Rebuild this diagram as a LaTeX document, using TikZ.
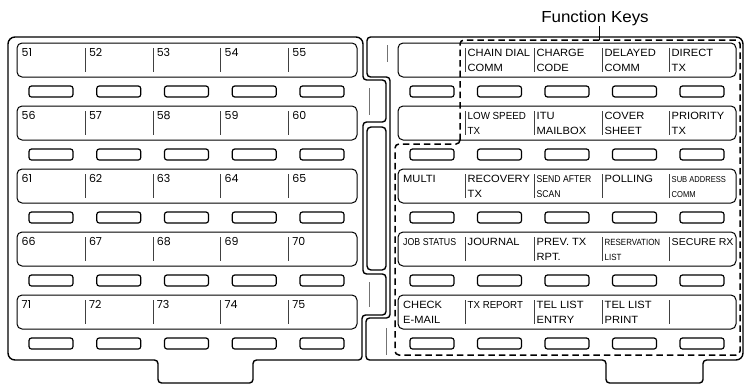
\documentclass[tikz,border=0pt]{standalone}
\usepackage{fontspec}
\setmainfont{Liberation Sans}
\newfontfamily\wide[FakeStretch=1.06]{Liberation Sans}
\newfontfamily\narrowa[FakeStretch=0.95]{Liberation Sans}
\newfontfamily\narrowb[FakeStretch=0.88]{Liberation Sans}
\newfontfamily\numfont{Poppins}
\newcommand\twoline[6]{%
  \node[ftxt, font=#4] (#1a) at (#2,#3+13.5) {#5};
  \node[ftxt, font=#4] (#1b) at (#2,#3+28) {#6};}
\newcommand\oneline[5]{%
  \node[ftxt, font=#4] (#1a) at (#2,#3+13.5) {#5};}
\newcommand\fsz[1]{\fontsize{#1}{#1}\selectfont}
\begin{document}
\begin{tikzpicture}[x=1pt,y=-1pt,
  sheet/.style={draw, line width=1.4pt},
  labelrow/.style={draw, line width=1pt, rounded corners=5pt},
  keybox/.style={draw, line width=1.2pt, rounded corners=2.5pt},
  sepline/.style={draw=black!75, line width=0.9pt},
  graymark/.style={draw=black!55, line width=1pt},
  fkdash/.style={draw, line width=1.5pt, dash pattern=on 6.5pt off 4pt, rounded corners=4pt},
  ftxt/.style={anchor=base west, inner sep=0pt},
  numlabel/.style={anchor=base west, inner sep=0pt, font=\numfont\fsz{11}}
]
\useasboundingbox (0,0) rectangle (746,386);

% left sheet
\draw[sheet, rounded corners=7pt] (8,37) -- (363,37) [rounded corners=3.5pt] -- (363,80) -- (386,80) -- (386,122) -- (363,122) -- (363,274) -- (386,274) -- (386,315) -- (362,315) -- (362,360) -- (253,360) -- (253,383) -- (158,383) -- (158,360) [rounded corners=7pt] -- (8,360) -- cycle;
% right sheet
\draw[sheet, rounded corners=4pt] (367,37) [rounded corners=7pt] -- (743,37) -- (743,360) [rounded corners=3.5pt] -- (703,360) -- (703,383) -- (606,383) -- (606,360) -- (366,360) -- (366,318) -- (390,318) -- (390,77) -- (367,77) -- cycle;
% middle bar
\draw[sheet, rounded corners=4pt] (367,127) rectangle (386,270);
% gray marks
\draw[graymark] (387,45) -- (387,62);
\draw[graymark] (369,88) -- (369,115);
\draw[graymark] (369,282) -- (369,307);
\draw[graymark] (386,328) -- (386,355);

\foreach \r in {0,...,4}{
  \pgfmathsetmacro\rt{43+63*\r}
  \draw[labelrow] (17,\rt) rectangle (357,\rt+34);
  \draw[labelrow] (398,\rt) rectangle (736,\rt+34);
  \foreach \i in {0,...,4}{
    \pgfmathsetmacro\lx{51+67.75*\i}
    \pgfmathsetmacro\rx{432+67.5*\i}
    \draw[keybox] (\lx-22,\rt+43) rectangle (\lx+22,\rt+54);
    \draw[keybox] (\rx-22,\rt+43) rectangle (\rx+22,\rt+54);
    \pgfmathtruncatemacro\num{51+5*\r+\i}
    \ifnum\i=0
      \node[numlabel] (n\num) at (21.5,\rt+13.5) {\num};
    \else
      \pgfmathsetmacro\sx{85.3+67.8*(\i-1)}
      \draw[sepline] (\sx,\rt+5) -- (\sx,\rt+29);
      \node[numlabel] (n\num) at (\sx+3.5,\rt+13.5) {\num};
    \fi
  }
  \foreach \sx in {465,534,602,669}{
    \draw[sepline] (\sx,\rt+5) -- (\sx,\rt+29);
  }
}

% function key texts
\twoline{r0c1}{467.5}{43}{\wide\fsz{10.5}}{CHAIN DIAL}{COMM}
\twoline{r0c2}{536.5}{43}{\wide\fsz{10.5}}{CHARGE}{CODE}
\twoline{r0c3}{604.5}{43}{\wide\fsz{10.5}}{DELAYED}{COMM}
\twoline{r0c4}{671.5}{43}{\wide\fsz{10.5}}{DIRECT}{TX}
\twoline{r1c1}{467.5}{106}{\narrowa\fsz{10.3}}{LOW SPEED}{TX}
\twoline{r1c2}{536.5}{106}{\wide\fsz{10.5}}{ITU}{MAILBOX}
\twoline{r1c3}{604.5}{106}{\wide\fsz{10.5}}{COVER}{SHEET}
\twoline{r1c4}{671.5}{106}{\wide\fsz{10.5}}{PRIORITY}{TX}
\oneline{r2c0}{403}{169}{\wide\fsz{10.5}}{MULTI}
\twoline{r2c1}{467.5}{169}{\wide\fsz{10.5}}{RECOVERY}{TX}
\twoline{r2c2}{536.5}{169}{\narrowb\fsz{9.8}}{SEND AFTER}{SCAN}
\oneline{r2c3}{604.5}{169}{\wide\fsz{10.5}}{POLLING}
\twoline{r2c4}{671.5}{169}{\narrowb\fsz{8.6}}{SUB ADDRESS}{COMM}
\oneline{r3c0}{403}{232}{\narrowb\fsz{10}}{JOB STATUS}
\oneline{r3c1}{467.5}{232}{\wide\fsz{10.5}}{JOURNAL}
\twoline{r3c2}{536.5}{232}{\wide\fsz{10.5}}{PREV. TX}{RPT.}
\twoline{r3c3}{604.5}{232}{\narrowb\fsz{9}}{RESERVATION}{LIST}
\oneline{r3c4}{671.5}{232}{\wide\fsz{10}}{SECURE RX}
\twoline{r4c0}{403}{295}{\wide\fsz{10.5}}{CHECK}{E-MAIL}
\oneline{r4c1}{467.5}{295}{\narrowa\fsz{10.2}}{TX REPORT}
\twoline{r4c2}{536.5}{295}{\wide\fsz{10.5}}{TEL LIST}{ENTRY}
\twoline{r4c3}{604.5}{295}{\wide\fsz{10.5}}{TEL LIST}{PRINT}

% function keys region
\draw[fkdash] (460,144) -- (460,40) -- (740,40) -- (740,355) -- (395,355) -- (395,144) -- cycle;
\node[anchor=base, inner sep=0pt, font=\wide\fsz{16}] (fk) at (595,22.5) {Function Keys};
\coordinate (fkend) at (599,40);
\draw[line width=1pt] (fk.south -| fkend) -- (fkend);
\end{tikzpicture}
\end{document}
